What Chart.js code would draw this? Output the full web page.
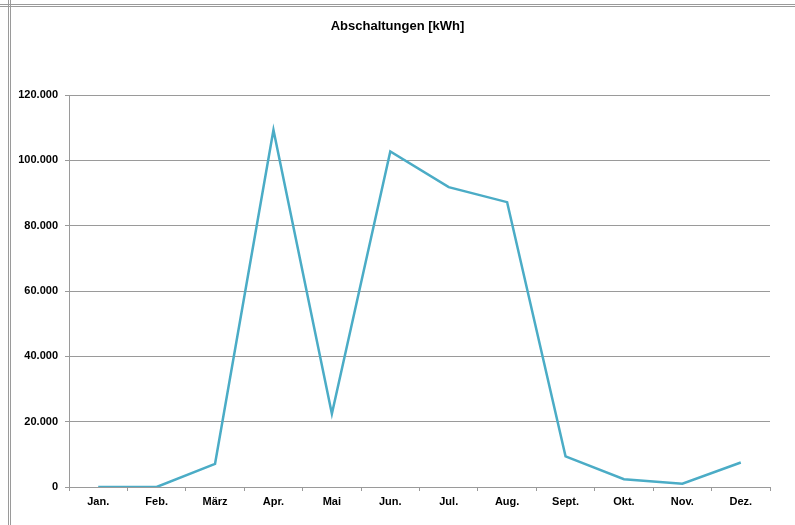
<!DOCTYPE html>
<html>
<head>
<meta charset="utf-8">
<script src="https://cdn.jsdelivr.net/npm/chart.js@4"></script>
<style>
    html, body { margin: 0; padding: 0; background: #fff; }
    .wrap { position: relative; width: 795px; height: 525px; overflow: hidden; }
    canvas { position: absolute; left: 0; top: 0; }
    .line-h { position: absolute; left: 0; top: 4px; width: 795px; height: 0; border-top: 3px double #9a9a9a; }
    .line-v { position: absolute; left: 8px; top: 0; width: 0; height: 525px; border-left: 3px double #9a9a9a; }
</style>
</head>
<body>
<div class="wrap">
    <canvas id="chart" width="795" height="525"></canvas>
    <div class="line-h"></div>
    <div class="line-v"></div>
</div>
<script>
const months = ['Jan.', 'Feb.', 'März', 'Apr.', 'Mai', 'Jun.', 'Jul.', 'Aug.', 'Sept.', 'Okt.', 'Nov.', 'Dez.'];
const abschaltungen = [0, 0, 7100, 109300, 22400, 102700, 91800, 87200, 9400, 2400, 1000, 7500];
const yTicks = [0, 20000, 40000, 60000, 80000, 100000, 120000];
const chartTitle = 'Abschaltungen [kWh]';

// 120000 -> "120.000"
function formatDe(v) {
    return String(v).replace(/\B(?=(\d{3})+(?!\d))/g, '.');
}

const tickFont = { family: "'Liberation Sans', Arial, sans-serif", size: 11, weight: 'bold' };

// title centred on the whole page, not on the plot
const pageTitle = {
    id: 'pageTitle',
    afterDraw(chart) {
        const ctx = chart.ctx;
        ctx.save();
        ctx.font = "bold 13px 'Liberation Sans', Arial, sans-serif";
        ctx.fillStyle = '#000';
        ctx.textAlign = 'center';
        ctx.textBaseline = 'middle';
        ctx.fillText(chartTitle, chart.width / 2, 26);
        ctx.restore();
    }
};

new Chart(document.getElementById('chart'), {
    type: 'line',
    data: {
        labels: months,
        datasets: [{
            label: chartTitle,
            data: abschaltungen,
            borderColor: '#4bacc6',
            borderWidth: 2.5,
            pointRadius: 0,
            tension: 0,
            fill: false
        }]
    },
    options: {
        responsive: false,
        animation: false,
        layout: { padding: { left: 0, right: 25, top: 95, bottom: 0 } },
        plugins: {
            legend: { display: false },
            tooltip: { enabled: false },
            title: { display: false }
        },
        scales: {
            x: {
                offset: true,
                grid: {
                    offset: true,
                    drawOnChartArea: false,
                    drawTicks: true,
                    tickLength: 4,
                    color: '#9a9a9a'
                },
                border: { color: '#9a9a9a', width: 1 },
                ticks: { color: '#000', font: tickFont, padding: 4, maxRotation: 0, autoSkip: false },
                afterFit: function (scale) { scale.height = 38; }
            },
            y: {
                min: 0,
                max: 120000,
                afterBuildTicks: function (scale) {
                    scale.ticks = yTicks.map(v => ({ value: v }));
                },
                grid: { color: '#9a9a9a', tickLength: 4 },
                border: { color: '#9a9a9a', width: 1 },
                ticks: {
                    color: '#000',
                    font: tickFont,
                    padding: 7,
                    callback: function (value) { return formatDe(value); }
                },
                afterFit: function (scale) { scale.width = 69; }
            }
        }
    },
    plugins: [pageTitle]
});
</script>
</body>
</html>
